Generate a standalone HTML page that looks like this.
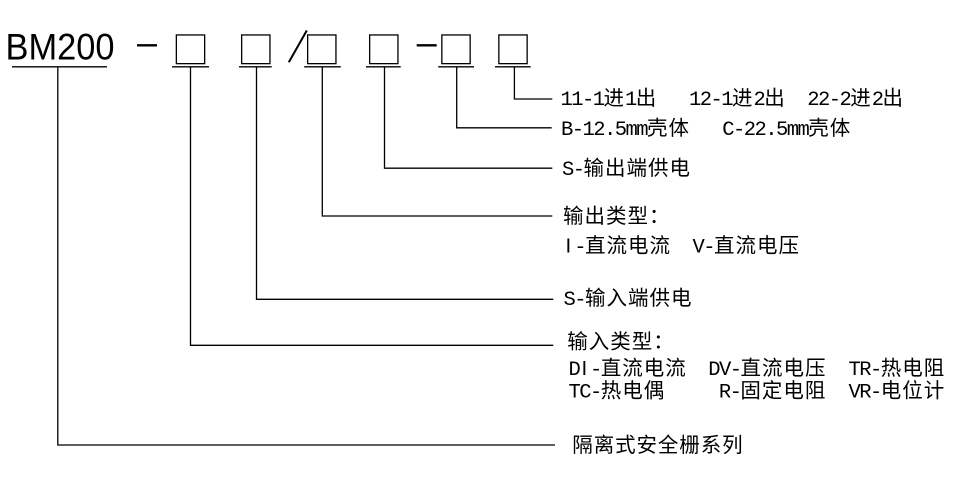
<!DOCTYPE html>
<html>
<head>
<meta charset="utf-8">
<style>
html,body{margin:0;padding:0;background:#fff;}
svg{display:block;}
text{font-family:"Liberation Mono","Noto Sans CJK SC",monospace;font-size:20.5px;fill:#000;}
.s{font-family:"Liberation Sans","Noto Sans CJK SC",sans-serif;}
</style>
</head>
<body>
<svg width="960" height="482" viewBox="0 0 960 482" xmlns="http://www.w3.org/2000/svg">
<rect width="960" height="482" fill="#fff"/>
<!-- Title -->
<text x="5.5" y="59.5" class="s" style="font-size:37px" textLength="109" lengthAdjust="spacingAndGlyphs">BM200</text>
<!-- dashes & slash -->
<line x1="137" y1="45.3" x2="157" y2="45.3" stroke="#000" stroke-width="2.4"/>
<line x1="416.7" y1="45.3" x2="436.7" y2="45.3" stroke="#000" stroke-width="2.4"/>
<line x1="288.8" y1="62.3" x2="306.8" y2="30.5" stroke="#000" stroke-width="2"/>
<g fill="none" stroke="#000" stroke-width="1.3">
<!-- boxes -->
<rect x="176.35" y="34.95" width="28.3" height="28.7"/>
<rect x="241.65" y="34.95" width="28.3" height="28.7"/>
<rect x="307.65" y="34.95" width="28.3" height="28.7"/>
<rect x="369.65" y="34.95" width="28.3" height="28.7"/>
<rect x="441.85" y="34.95" width="28.3" height="28.7"/>
<rect x="498.85" y="34.95" width="28.3" height="28.7"/>
<!-- underlines -->
<line x1="12" y1="66.8" x2="107" y2="66.8"/>
<line x1="172" y1="66.8" x2="209" y2="66.8"/>
<line x1="239" y1="66.8" x2="271.7" y2="66.8"/>
<line x1="304.2" y1="66.8" x2="340.8" y2="66.8"/>
<line x1="366" y1="66.8" x2="400.7" y2="66.8"/>
<line x1="438.2" y1="66.8" x2="474" y2="66.8"/>
<line x1="495" y1="66.8" x2="530.7" y2="66.8"/>
<!-- connectors -->
<polyline points="57.8,66.8 57.8,445 555,445"/>
<polyline points="190.5,66.8 190.5,345.3 553.3,345.3"/>
<polyline points="256.5,66.8 256.5,299.3 553.3,299.3"/>
<polyline points="322.3,66.8 322.3,216 552.3,216"/>
<polyline points="384.5,66.8 384.5,168.2 552.3,168.2"/>
<polyline points="456.7,66.8 456.7,127.8 551.7,127.8"/>
<polyline points="514.4,66.8 514.4,99 552.3,99"/>
</g>

<!-- Line 1 -->
<text y="105" x="560.5 571.25 582 592.75 603.5 625 635.75">11-1进1出</text>
<text y="105" x="689 699.75 710.5 721.25 732 753.5 764.25">12-1进2出</text>
<text y="105" x="807.25 818 828.75 839.5 850.25 871.75 882.5">22-2进2出</text>
<!-- Line 2 -->
<text y="135" x="561 571.75 582.5 593.25 604 614.75 625.5 636.25 647 668.5">B-12.5mm壳体</text>
<text y="135" x="722.25 733 743.75 754.5 765.25 776 786.75 797.5 808.25 829.75">C-22.5mm壳体</text>
<!-- Line 3 -->
<text y="175" x="562 572.75 583.5 605 626.5 648 669.5">S-输出端供电</text>
<!-- Line 4 -->
<text y="223" x="563 584.5 606 627.5 649">输出类型：</text>
<!-- Line 5 -->
<text y="252.5"><tspan class="s" x="565.5">I</tspan><tspan x="574.25 585 606.5 628 649.5">-直流电流</tspan></text>
<text y="252.5" x="692.5 703.25 714 735.5 757 778.5">V-直流电压</text>
<!-- Line 6 -->
<text y="305" x="563.5 574.25 585 606.5 628 649.5 671">S-输入端供电</text>
<!-- Line 7 -->
<text y="348.5" x="567.3 588.8 610.3 631.8 653.3">输入类型：</text>
<!-- Line 8 -->
<text y="375"><tspan x="568.5">D</tspan><tspan class="s" x="581.5">I</tspan><tspan x="590 600.75 622.25 643.75 665.25">-直流电流</tspan></text>
<text y="375" x="708.25 719 729.75 740.5 762 783.5 805">DV-直流电压</text>
<text y="375" x="848.5 859.25 870 880.75 902.25 923.75">TR-热电阻</text>
<!-- Line 9 -->
<text y="397.5" x="568.5 579.25 590 600.75 622.25 643.75">TC-热电偶</text>
<text y="397.5" x="718.9 729.65 740.4 761.9 783.4 804.9">R-固定电阻</text>
<text y="397.5" x="848.5 859.25 870 880.75 902.25 923.75">VR-电位计</text>
<!-- Line 10 -->
<text y="452" x="572.3 593.7 615.1 636.5 657.9 679.3 700.7 722.1">隔离式安全栅系列</text>
</svg>
</body>
</html>
